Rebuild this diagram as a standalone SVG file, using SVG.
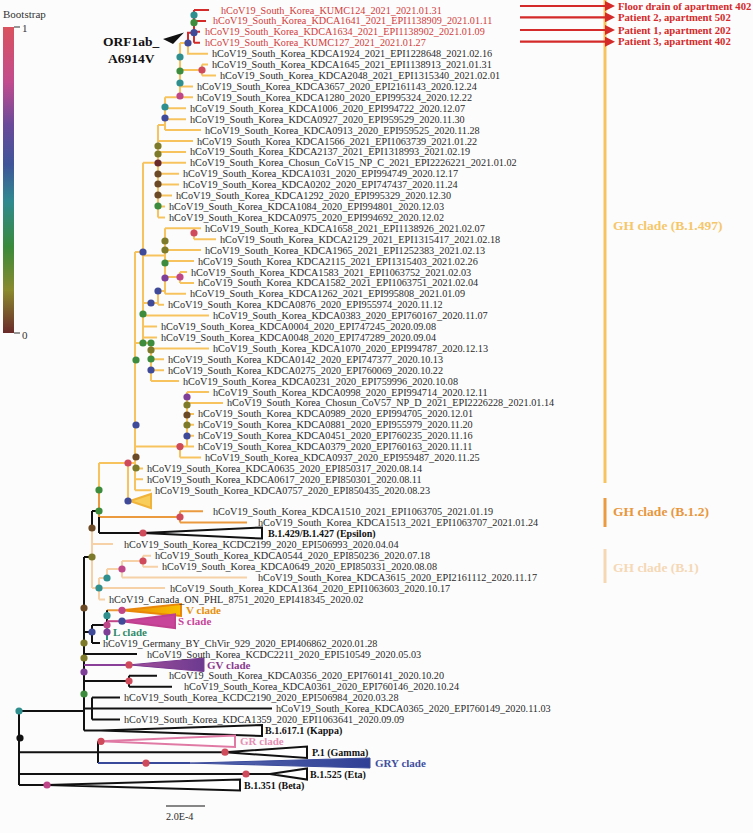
<svg xmlns="http://www.w3.org/2000/svg" width="753" height="833" viewBox="0 0 753 833">
<style>
.t{font-family:"Liberation Serif",serif;font-size:10.2px;fill:#2a2a2a}
.tr{font-family:"Liberation Serif",serif;font-size:10.2px;fill:#d23a3a}
.b{font-family:"Liberation Serif",serif;font-size:10px;font-weight:bold;fill:#111}
.c{font-family:"Liberation Serif",serif;font-size:11px;font-weight:bold}
.g{font-family:"Liberation Serif",serif;font-size:13.5px;font-weight:bold}
.ar{font-family:"Liberation Serif",serif;font-size:10.7px;font-weight:bold;fill:#d42a2a}
path{fill:none;stroke-width:2}
.y{stroke:#f6c35f}.r{stroke:#d42a2a}.o{stroke:#ec9a3f}.p{stroke:#f6d0a6}.k{stroke:#111}
.pu{stroke:#8a3f98}.bl{stroke:#3a4a9a}.tl{stroke:#2f8f7f}.pk{stroke:#e07aa5}.mg{stroke:#c0468a}
.tri{stroke-width:2;stroke-linejoin:miter}
.arw{stroke:#d42a2a;stroke-width:2.2}
circle{r:3.6px}
.cT{fill:#2f8f8f}.cG{fill:#3d8b3d}.cB{fill:#3f4a99}.cP{fill:#7d3f97}.cM{fill:#c0468a}.cR{fill:#cf4a5a}.cO{fill:#7d7a2a}.cN{fill:#6b4a25}.cD{fill:#6b2a2a}.cK{fill:#111}
</style>
<defs>
<linearGradient id="bs" x1="0" y1="0" x2="0" y2="1">
<stop offset="0" stop-color="#d9525e"/><stop offset="0.18" stop-color="#c24b8e"/><stop offset="0.32" stop-color="#6a4a9a"/><stop offset="0.45" stop-color="#3f5599"/><stop offset="0.57" stop-color="#2f8a8f"/><stop offset="0.72" stop-color="#3a8a3a"/><stop offset="0.86" stop-color="#8a8a2e"/><stop offset="1" stop-color="#6a2a2a"/>
</linearGradient>
<linearGradient id="gv" x1="0" y1="0" x2="1" y2="0"><stop offset="0" stop-color="#a8509a"/><stop offset="1" stop-color="#6a3a90"/></linearGradient>
<linearGradient id="gvv" x1="0" y1="0" x2="1" y2="0"><stop offset="0" stop-color="#e8860a"/><stop offset="1" stop-color="#f8c000"/></linearGradient>
<linearGradient id="gry" x1="0" y1="0" x2="1" y2="0"><stop offset="0" stop-color="#5a6ab0"/><stop offset="1" stop-color="#2f3f95"/></linearGradient>
<marker id="ah" viewBox="0 0 10 10" refX="0" refY="5" markerWidth="10" markerHeight="10" markerUnits="userSpaceOnUse" orient="auto"><path d="M0,0L10,5L0,10Z" style="fill:#d42a2a;stroke:none"/></marker>
</defs>
<rect width="753" height="833" fill="#fcfcfc"/>

<g id="legend">
<text x="3" y="18" style="font-family:'Liberation Serif',serif;font-size:11px;fill:#333">Bootstrap</text>
<rect x="3" y="27" width="11" height="306" fill="url(#bs)"/>
<line x1="14" y1="27" x2="20" y2="27" stroke="#333" stroke-width="1"/>
<line x1="14" y1="333" x2="20" y2="333" stroke="#333" stroke-width="1"/>
<text x="22" y="32" style="font-family:'Liberation Serif',serif;font-size:11px;fill:#333">1</text>
<text x="22" y="339" style="font-family:'Liberation Serif',serif;font-size:11px;fill:#333">0</text>
</g>

<g id="clade-bars">
<rect x="603.5" y="0" width="3" height="483" fill="#f6c35f"/>
<rect x="603.5" y="498" width="3" height="29" fill="#ec9a3f"/>
<rect x="603.5" y="549" width="3" height="34" fill="#f6d7b4"/>
<text class="g" x="613" y="230" style="fill:#f5c76a">GH clade (B.1.497)</text>
<text class="g" x="613" y="516" style="fill:#e8973c">GH clade (B.1.2)</text>
<text class="g" x="613" y="572" style="fill:#f5d8b6">GH clade (B.1)</text>
</g>

<g id="connectors">
<path class="y" d="M188,43V53.7H208M180,43H188M180,43V97.3M165,97.3H193M180,70H202M202,64.6V75.5M202,64.6H208M202,75.5H216M180,86.4H193M165,97.3V130.1M165,108.2H186M165,119.2H186M165,130.1H201M158,125H165M158,125V217.4M158,141H193M158,151.9H186M143,162.8H186M158,173.7H179M158,184.6H179M158,195.6H172M158,206.5H165M158,217.4H165M143,162.8V343M135,252H143M143,255.5H165M165,228.3V293.8M165,228.3H201M194,228.3V239.2M194,239.2H216M165,250.1H201M165,261H194M165,277H180M180,272V282.9M180,272H187M180,282.9H194M165,293.8H186M158,291H165M158,291V304.7M158,304.7H164M143,303H158M143,315.6H209M143,326.5H157M143,337.5H157M135,343H151M151,343V381.1M151,348.4H209M151,359.3H164M151,370.2H164M151,381.1H179M135,252V490.3M187,392V446.6M187,392H209M187,402.9H223M187,413.9H194M187,424.8H194M187,435.7H194M135,446.6H194M180,446.6V457.5M180,457.5H201M135,468.4H143M135,479.3H143M135,490.3H151M99,463H135M128,463V501M99,463V490"/>
<path class="r" d="M188,43V32.7H194M194,10V42.7M194,10H209M194,20.9H206M194,31.8H200M194,42.7H200"/>
<path class="o" d="M99,490V517M99,517H180M180,511.3V522.6M180,511.3H203M180,522.6H247M107,610.3H122"/>
<path class="k" d="M92,511H99M99,517V533M99,533H143M92,511V528M84,557H92M84,557V730.4M84,632H92M92,625V643.1M92,643.1H100M92,625H107M107,610.3V625M84,654H137M84,681H129M129,675.8V686.7M129,675.8H157M129,686.7H172M84,708.6H92M92,697.6V719.5M92,697.6H120M92,708.6H272M92,719.5H120M84,730.4H101M19,711H84M19,711V785M19,752.2H225M98,741.3V763.1M19,774H270M19,785H47"/>
<path class="p" d="M92,528V588M92,544H113M92,588H99M99,578V599.4M99,578H107M99,588H165M99,599.4H105M107,569V578M107,569H122M122,561V577.6M122,561H143M122,577.6H247M143,555.8V566.7M143,555.8H151M143,566.7H158"/>
<path class="mg" d="M107,621.2H122"/>
<path class="tl" d="M107,625V640"/>
<path class="pu" d="M84,664.9H129"/>
<path class="bl" d="M98,763.1H190"/>
<path class="pk" d="M98,741.3H101"/>
<line class="arw" x1="520" y1="6" x2="605" y2="6" marker-end="url(#ah)"/>
<line class="arw" x1="520" y1="17.3" x2="605" y2="17.3" marker-end="url(#ah)"/>
<line class="arw" x1="520" y1="30" x2="605" y2="30" marker-end="url(#ah)"/>
<line class="arw" x1="520" y1="41.7" x2="605" y2="41.7" marker-end="url(#ah)"/>
</g>

<g id="collapsed">
<path class="tri" d="M130,501L151,494L151,508Z" style="fill:#f8cd5a;stroke:#f0b43a"/>
<path class="tri" d="M143,533L262,527.5L262,538.5Z" style="fill:#fff;stroke:#111"/>
<path class="tri" d="M122,610.3L181,604L181,616Z" style="fill:url(#gvv);stroke:#e8860a"/>
<path class="tri" d="M122,621.2L175,614.5L175,628Z" style="fill:#c8449a;stroke:#c0408f"/>
<path class="tri" d="M129,664.9L204,658L204,671.5Z" style="fill:url(#gv);stroke:#7a3a90;stroke-width:1"/>
<path class="tri" d="M101,730.4L262,725L262,736Z" style="fill:#fff;stroke:#111"/>
<path class="tri" d="M101,741.3L235,735.5L235,747Z" style="fill:#fff;stroke:#e07aa5"/>
<path class="tri" d="M225,752.2L307,746.5L307,758Z" style="fill:#fff;stroke:#111"/>
<path class="tri" d="M190,763.1L370,758L370,768Z" style="fill:url(#gry);stroke:#3a4a9a;stroke-width:1"/>
<path class="tri" d="M270,774L307,768.5L307,779.5Z" style="fill:#fff;stroke:#111"/>
<path class="tri" d="M47,785L240,779.5L240,790.5Z" style="fill:#fff;stroke:#111"/>
</g>

<g id="annotation">
<polygon points="163,39 184,32.5 173,44" fill="#111"/>
<text class="g" x="103" y="46" style="fill:#111">ORF1ab_</text>
<text class="g" x="108" y="63" style="fill:#111">A6914V</text>
<text class="ar" x="618" y="9.7">Floor drain of apartment 402</text>
<text class="ar" x="618" y="21">Patient 2, apartment 502</text>
<text class="ar" x="618" y="33.7">Patient 1, apartment 202</text>
<text class="ar" x="618" y="45.4">Patient 3, apartment 402</text>
</g>

<g id="internal-nodes">
<circle class="cT" cx="194" cy="15"/><circle class="cG" cx="194" cy="22.7"/><circle class="cB" cx="194" cy="32.7"/><circle class="cB" cx="188" cy="43"/>
<circle class="cT" cx="180" cy="57"/><circle class="cG" cx="180" cy="71"/><circle class="cT" cx="180" cy="83"/><circle class="cM" cx="180" cy="96"/><circle class="cR" cx="202" cy="70"/>
<circle class="cT" cx="165" cy="107"/><circle class="cB" cx="165" cy="118"/>
<circle class="cO" cx="158" cy="146"/><circle class="cO" cx="158" cy="154"/><circle class="cD" cx="158" cy="163"/><circle class="cN" cx="158" cy="174"/><circle class="cN" cx="158" cy="184"/><circle class="cN" cx="158" cy="195"/><circle class="cG" cx="158" cy="206"/>
<circle class="cR" cx="194" cy="233"/><circle class="cO" cx="165" cy="241"/><circle class="cO" cx="165" cy="250"/><circle class="cG" cx="165" cy="263"/><circle class="cP" cx="165" cy="278"/><circle class="cM" cx="180" cy="277"/>
<circle class="cB" cx="143" cy="252"/><circle class="cB" cx="158" cy="291"/><circle class="cB" cx="151" cy="303"/><circle class="cG" cx="143" cy="314"/><circle class="cG" cx="143" cy="343"/><circle class="cG" cx="151" cy="343"/><circle class="cO" cx="151" cy="350"/><circle class="cG" cx="151" cy="359"/><circle class="cB" cx="151" cy="370"/><circle class="cG" cx="136" cy="360"/>
<circle class="cP" cx="187" cy="397"/><circle class="cO" cx="187" cy="405"/><circle class="cN" cx="187" cy="415"/><circle class="cO" cx="187" cy="425"/><circle class="cB" cx="187" cy="436"/><circle class="cR" cx="180" cy="446.6"/>
<circle class="cB" cx="136" cy="425"/><circle class="cN" cx="136" cy="457"/><circle class="cO" cx="136" cy="468"/><circle class="cR" cx="128" cy="463"/><circle class="cB" cx="128" cy="501"/><circle class="cG" cx="99" cy="490"/><circle class="cG" cx="99" cy="511"/>
<circle class="cR" cx="180" cy="517"/><circle class="cR" cx="143" cy="533"/><circle class="cN" cx="92" cy="528"/><circle class="cO" cx="92" cy="557"/>
<circle class="cR" cx="143" cy="561"/><circle class="cM" cx="122" cy="569"/><circle class="cT" cx="107" cy="578"/><circle class="cT" cx="99" cy="588"/>
<circle class="cN" cx="84" cy="608"/><circle class="cM" cx="122" cy="610.3"/><circle class="cT" cx="107" cy="615.7"/><circle class="cB" cx="122" cy="621.2"/><circle class="cM" cx="107" cy="625"/><circle class="cP" cx="107" cy="632"/><circle class="cB" cx="92" cy="632"/>
<circle class="cO" cx="84" cy="643"/><circle class="cO" cx="84" cy="658"/><circle class="cR" cx="129" cy="664.9"/><circle class="cP" cx="84" cy="672"/><circle class="cR" cx="129" cy="681"/><circle class="cG" cx="84" cy="694"/>
<circle class="cT" cx="19" cy="711"/><circle class="cK" cx="20" cy="738"/><circle class="cR" cx="101" cy="741.3"/><circle class="cR" cx="225" cy="752.2"/><circle class="cR" cx="146" cy="763.1"/><circle class="cR" cx="246" cy="774"/><circle class="cM" cx="47" cy="785"/>
</g>

<g id="tips">
<g id="n0"><text class="tr" x="221" y="13.5">hCoV19_South_Korea_KUMC124_2021_2021.01.31</text></g>
<g id="n1"><text class="tr" x="213" y="24.4">hCoV19_South_Korea_KDCA1641_2021_EPI1138909_2021.01.11</text></g>
<g id="n2"><text class="tr" x="205" y="35.3">hCoV19_South_Korea_KDCA1634_2021_EPI1138902_2021.01.09</text></g>
<g id="n3"><text class="tr" x="205" y="46.2">hCoV19_South_Korea_KUMC127_2021_2021.01.27</text></g>
<g id="n4"><text class="t" x="212" y="57.2">hCoV19_South_Korea_KDCA1924_2021_EPI1228648_2021.02.16</text></g>
<g id="n5"><text class="t" x="212" y="68.1">hCoV19_South_Korea_KDCA1645_2021_EPI1138913_2021.01.31</text></g>
<g id="n6"><text class="t" x="220" y="79">hCoV19_South_Korea_KDCA2048_2021_EPI1315340_2021.02.01</text></g>
<g id="n7"><text class="t" x="197" y="89.9">hCoV19_South_Korea_KDCA3657_2020_EPI2161143_2020.12.24</text></g>
<g id="n8"><text class="t" x="197" y="100.8">hCoV19_South_Korea_KDCA1280_2020_EPI995324_2020.12.22</text></g>
<g id="n9"><text class="t" x="190" y="111.7">hCoV19_South_Korea_KDCA1006_2020_EPI994722_2020.12.07</text></g>
<g id="n10"><text class="t" x="190" y="122.7">hCoV19_South_Korea_KDCA0927_2020_EPI959529_2020.11.30</text></g>
<g id="n11"><text class="t" x="205" y="133.6">hCoV19_South_Korea_KDCA0913_2020_EPI959525_2020.11.28</text></g>
<g id="n12"><text class="t" x="197" y="144.5">hCoV19_South_Korea_KDCA1566_2021_EPI1063739_2021.01.22</text></g>
<g id="n13"><text class="t" x="190" y="155.4">hCoV19_South_Korea_KDCA2137_2021_EPI1318993_2021.02.19</text></g>
<g id="n14"><text class="t" x="190" y="166.3">hCoV19_South_Korea_Chosun_CoV15_NP_C_2021_EPI2226221_2021.01.02</text></g>
<g id="n15"><text class="t" x="183" y="177.2">hCoV19_South_Korea_KDCA1031_2020_EPI994749_2020.12.17</text></g>
<g id="n16"><text class="t" x="183" y="188.1">hCoV19_South_Korea_KDCA0202_2020_EPI747437_2020.11.24</text></g>
<g id="n17"><text class="t" x="176" y="199.1">hCoV19_South_Korea_KDCA1292_2020_EPI995329_2020.12.30</text></g>
<g id="n18"><text class="t" x="169" y="210">hCoV19_South_Korea_KDCA1084_2020_EPI994801_2020.12.03</text></g>
<g id="n19"><text class="t" x="169" y="220.9">hCoV19_South_Korea_KDCA0975_2020_EPI994692_2020.12.02</text></g>
<g id="n20"><text class="t" x="205" y="231.8">hCoV19_South_Korea_KDCA1658_2021_EPI1138926_2021.02.07</text></g>
<g id="n21"><text class="t" x="220" y="242.7">hCoV19_South_Korea_KDCA2129_2021_EPI1315417_2021.02.18</text></g>
<g id="n22"><text class="t" x="205" y="253.6">hCoV19_South_Korea_KDCA1965_2021_EPI1252383_2021.02.13</text></g>
<g id="n23"><text class="t" x="198" y="264.5">hCoV19_South_Korea_KDCA2115_2021_EPI1315403_2021.02.26</text></g>
<g id="n24"><text class="t" x="191" y="275.5">hCoV19_South_Korea_KDCA1583_2021_EPI1063752_2021.02.03</text></g>
<g id="n25"><text class="t" x="198" y="286.4">hCoV19_South_Korea_KDCA1582_2021_EPI1063751_2021.02.04</text></g>
<g id="n26"><text class="t" x="190" y="297.3">hCoV19_South_Korea_KDCA1262_2021_EPI995808_2021.01.09</text></g>
<g id="n27"><text class="t" x="168" y="308.2">hCoV19_South_Korea_KDCA0876_2020_EPI955974_2020.11.12</text></g>
<g id="n28"><text class="t" x="213" y="319.1">hCoV19_South_Korea_KDCA0383_2020_EPI760167_2020.11.07</text></g>
<g id="n29"><text class="t" x="161" y="330">hCoV19_South_Korea_KDCA0004_2020_EPI747245_2020.09.08</text></g>
<g id="n30"><text class="t" x="161" y="341">hCoV19_South_Korea_KDCA0048_2020_EPI747289_2020.09.04</text></g>
<g id="n31"><text class="t" x="213" y="351.9">hCoV19_South_Korea_KDCA1070_2020_EPI994787_2020.12.13</text></g>
<g id="n32"><text class="t" x="168" y="362.8">hCoV19_South_Korea_KDCA0142_2020_EPI747377_2020.10.13</text></g>
<g id="n33"><text class="t" x="168" y="373.7">hCoV19_South_Korea_KDCA0275_2020_EPI760069_2020.10.22</text></g>
<g id="n34"><text class="t" x="183" y="384.6">hCoV19_South_Korea_KDCA0231_2020_EPI759996_2020.10.08</text></g>
<g id="n35"><text class="t" x="213" y="395.5">hCoV19_South_Korea_KDCA0998_2020_EPI994714_2020.12.11</text></g>
<g id="n36"><text class="t" x="227" y="406.4">hCoV19_South_Korea_Chosun_CoV57_NP_D_2021_EPI2226228_2021.01.14</text></g>
<g id="n37"><text class="t" x="198" y="417.4">hCoV19_South_Korea_KDCA0989_2020_EPI994705_2020.12.01</text></g>
<g id="n38"><text class="t" x="198" y="428.3">hCoV19_South_Korea_KDCA0881_2020_EPI955979_2020.11.20</text></g>
<g id="n39"><text class="t" x="198" y="439.2">hCoV19_South_Korea_KDCA0451_2020_EPI760235_2020.11.16</text></g>
<g id="n40"><text class="t" x="198" y="450.1">hCoV19_South_Korea_KDCA0379_2020_EPI760163_2020.11.11</text></g>
<g id="n41"><text class="t" x="205" y="461">hCoV19_South_Korea_KDCA0937_2020_EPI959487_2020.11.25</text></g>
<g id="n42"><text class="t" x="147" y="471.9">hCoV19_South_Korea_KDCA0635_2020_EPI850317_2020.08.14</text></g>
<g id="n43"><text class="t" x="147" y="482.8">hCoV19_South_Korea_KDCA0617_2020_EPI850301_2020.08.11</text></g>
<g id="n44"><text class="t" x="155" y="493.8">hCoV19_South_Korea_KDCA0757_2020_EPI850435_2020.08.23</text></g>
<g id="n46"><text class="t" x="213" y="514.8">hCoV19_South_Korea_KDCA1510_2021_EPI1063705_2021.01.19</text></g>
<g id="n47"><text class="t" x="258" y="526.1">hCoV19_South_Korea_KDCA1513_2021_EPI1063707_2021.01.24</text></g>
<g id="n48"><text class="b" x="268" y="537">B.1.429/B.1.427 (Epsilon)</text></g>
<g id="n49"><text class="t" x="124" y="547.8">hCoV19_South_Korea_KCDC2199_2020_EPI506993_2020.04.04</text></g>
<g id="n50"><text class="t" x="155" y="559.3">hCoV19_South_Korea_KDCA0544_2020_EPI850236_2020.07.18</text></g>
<g id="n51"><text class="t" x="162" y="570.2">hCoV19_South_Korea_KDCA0649_2020_EPI850331_2020.08.08</text></g>
<g id="n52"><text class="t" x="258" y="581.1">hCoV19_South_Korea_KDCA3615_2020_EPI2161112_2020.11.17</text></g>
<g id="n53"><text class="t" x="170" y="592">hCoV19_South_Korea_KDCA1364_2020_EPI1063603_2020.10.17</text></g>
<g id="n54"><text class="t" x="109" y="602.9">hCoV19_Canada_ON_PHL_8751_2020_EPI418345_2020.02</text></g>
<g id="n55"><text class="c" x="186" y="614" style="fill:#e8900a">V clade</text></g>
<g id="n56"><text class="c" x="178" y="625" style="fill:#c8449a">S clade</text></g>
<g id="n57"><text class="c" x="113" y="636" style="fill:#2f8a6a">L clade</text></g>
<g id="n58"><text class="t" x="103" y="646.6">hCoV19_Germany_BY_ChVir_929_2020_EPI406862_2020.01.28</text></g>
<g id="n59"><text class="t" x="147" y="657.5">hCoV19_South_Korea_KCDC2211_2020_EPI510549_2020.05.03</text></g>
<g id="n60"><text class="c" x="207" y="668.7" style="fill:#8b3a8e">GV clade</text></g>
<g id="n61"><text class="t" x="169" y="679.3">hCoV19_South_Korea_KDCA0356_2020_EPI760141_2020.10.20</text></g>
<g id="n62"><text class="t" x="184" y="690.2">hCoV19_South_Korea_KDCA0361_2020_EPI760146_2020.10.24</text></g>
<g id="n63"><text class="t" x="124" y="701.1">hCoV19_South_Korea_KCDC2190_2020_EPI506984_2020.03.28</text></g>
<g id="n64"><text class="t" x="276" y="712.1">hCoV19_South_Korea_KDCA0365_2020_EPI760149_2020.11.03</text></g>
<g id="n65"><text class="t" x="124" y="723">hCoV19_South_Korea_KDCA1359_2020_EPI1063641_2020.09.09</text></g>
<g id="n66"><text class="b" x="265" y="734">B.1.617.1 (Kappa)</text></g>
<g id="n67"><text class="c" x="240" y="745" style="fill:#e58fb5">GR clade</text></g>
<g id="n68"><text class="b" x="312" y="756">P.1 (Gamma)</text></g>
<g id="n69"><text class="c" x="375" y="767" style="fill:#3f4f9f">GRY clade</text></g>
<g id="n70"><text class="b" x="310" y="777.6">B.1.525 (Eta)</text></g>
<g id="n71"><text class="b" x="244" y="788.6">B.1.351 (Beta)</text></g>
</g>

<g id="scale">
<line x1="166" y1="806" x2="205" y2="806" stroke="#111" stroke-width="1"/>
<text class="t" x="166" y="820">2.0E-4</text>
</g>
</svg>
